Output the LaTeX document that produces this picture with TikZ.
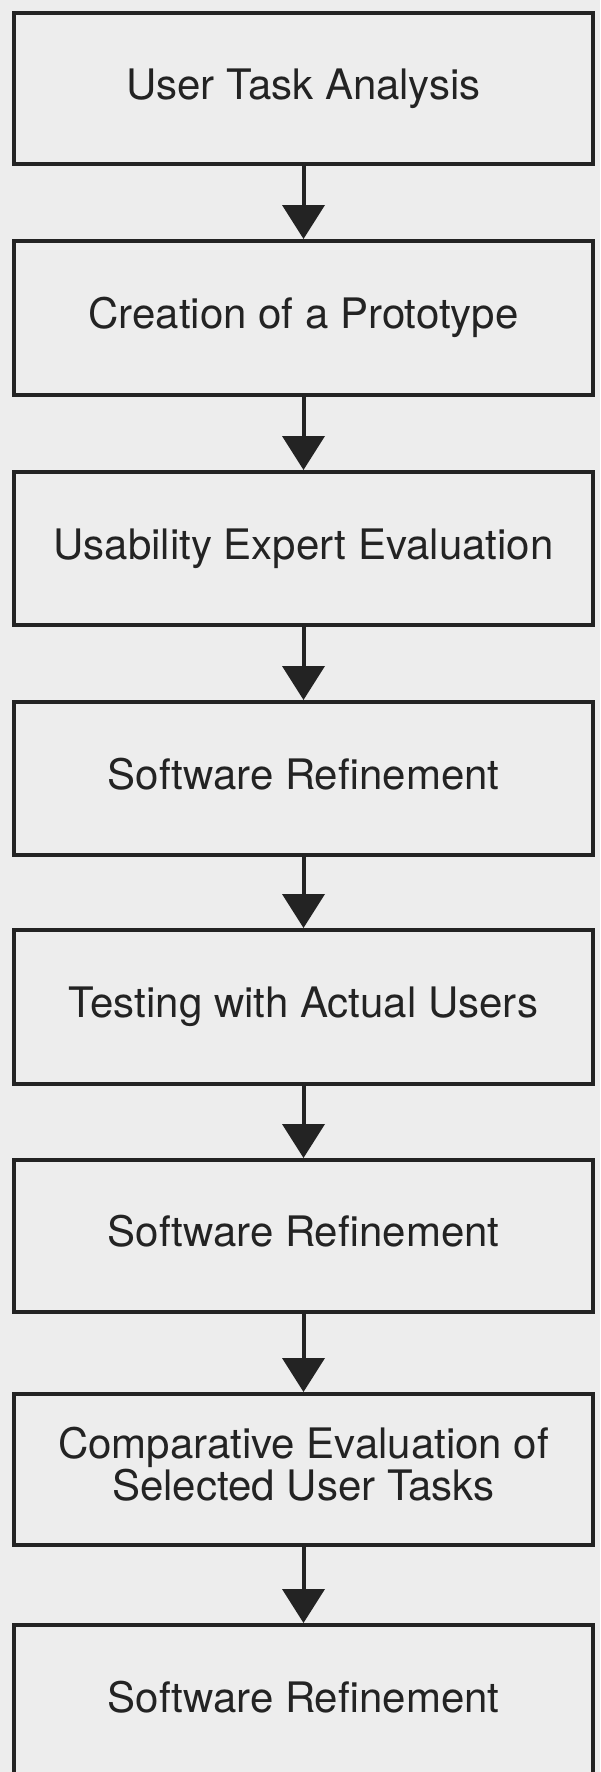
\documentclass[tikz,border=0pt]{standalone}
\usepackage{fontspec}
\setmainfont{TeX Gyre Heros}
\usetikzlibrary{arrows.meta}
\definecolor{paper}{HTML}{EDEDED}
\definecolor{ink}{HTML}{232323}
\tikzset{
  stepbox/.style={draw=ink, line width=4pt, rectangle, inner sep=0pt,
    minimum width=579pt, align=center, text=ink,
    font=\fontsize{42}{40}\selectfont, text height=21pt, text depth=0pt},
  flow/.style={draw=ink, line width=4pt,
    -{Triangle[width=42pt,length=34pt]}},
}
\begin{document}
\begin{tikzpicture}[x=1pt,y=-1pt]
\path[use as bounding box, fill=paper] (0,0) rectangle (600,1772);
\clip (0,0) rectangle (600,1772);
\node[stepbox, minimum height=151pt] (b1) at (303.5,88.5) {User Task Analysis};
\node[stepbox, minimum height=154pt] (b2) at (303.5,318) {Creation of a Prototype};
\node[stepbox, minimum height=153pt] (b3) at (303.5,548.5) {Usability Expert Evaluation};
\node[stepbox, minimum height=153pt] (b4) at (303.5,778.5) {Software Refinement};
\node[stepbox, minimum height=154pt] (b5) at (303.5,1007) {Testing with Actual Users};
\node[stepbox, minimum height=152pt] (b6) at (303.5,1236) {Software Refinement};
\node[stepbox, minimum height=151pt, text height=61pt] (b7) at (303.5,1469.5) {Comparative Evaluation of\\Selected User Tasks};
\node[stepbox, minimum height=153pt] (b8) at (303.5,1701.5) {Software Refinement};
\draw[flow] (b1.south) -- (b2.north);
\draw[flow] (b2.south) -- (b3.north);
\draw[flow] (b3.south) -- (b4.north);
\draw[flow] (b4.south) -- (b5.north);
\draw[flow] (b5.south) -- (b6.north);
\draw[flow] (b6.south) -- (b7.north);
\draw[flow] (b7.south) -- (b8.north);
\end{tikzpicture}
\end{document}
